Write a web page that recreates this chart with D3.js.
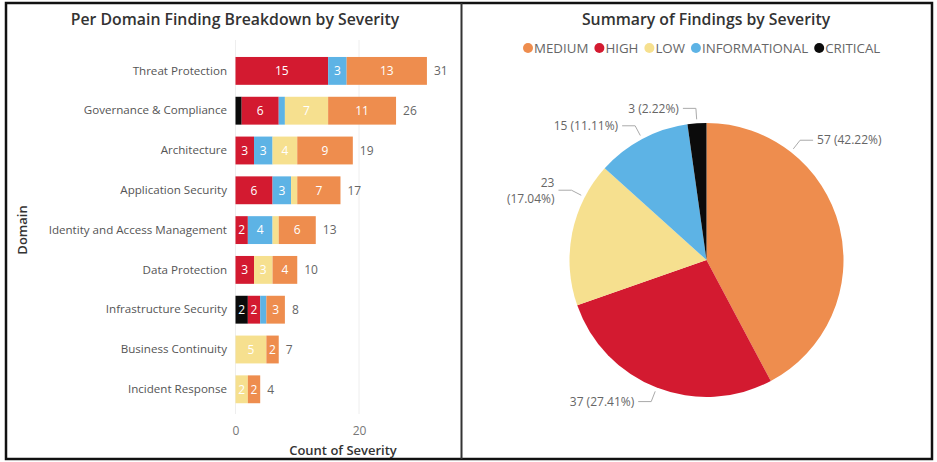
<!DOCTYPE html>
<html lang="en">
<head>
  <meta charset="UTF-8">
  <title>Findings by Severity</title>
  <script src="https://cdn.jsdelivr.net/npm/d3@7"></script>
  <style>
    body { margin: 0; background: #fff; }
    text { font-family: "Open Sans", "Noto Sans", sans-serif; }
  </style>
</head>
<body>
  <svg class="chart"></svg>
</body>
</html>
<script>
  var svgWidth = 937;
  var svgHeight = 462;

  // data
  var domains = ['Threat Protection', 'Governance & Compliance', 'Architecture', 'Application Security',
    'Identity and Access Management', 'Data Protection', 'Infrastructure Security', 'Business Continuity', 'Incident Response'];
  var severities = ['CRITICAL', 'HIGH', 'INFORMATIONAL', 'LOW', 'MEDIUM'];
  var critical      = [0, 1, 0, 0, 0, 0, 2, 0, 0];
  var high          = [15, 6, 3, 6, 2, 3, 2, 0, 0];
  var informational = [3, 1, 3, 3, 4, 0, 1, 0, 0];
  var low           = [0, 7, 4, 1, 1, 3, 0, 5, 2];
  var medium        = [13, 11, 9, 7, 6, 4, 3, 2, 2];
  var xTicks = [0, 20];
  var pieOrder = ['MEDIUM', 'HIGH', 'LOW', 'INFORMATIONAL', 'CRITICAL'];

  var colors = {
    CRITICAL: '#0b0b0b',
    HIGH: '#d31a30',
    INFORMATIONAL: '#5db3e5',
    LOW: '#f6e08f',
    MEDIUM: '#ee8d4e'
  };

  var seriesValues = {CRITICAL: critical, HIGH: high, INFORMATIONAL: informational, LOW: low, MEDIUM: medium};

  var rows = domains.map(function(d, i) {
    var r = {domain: d};
    severities.forEach(function(s) { r[s] = seriesValues[s][i]; });
    return r;
  });

  var svg = d3.select('.chart')
    .attr('width', svgWidth)
    .attr('height', svgHeight);

  // frames
  svg.append('rect').attr('x', 6).attr('y', 3).attr('width', 926).attr('height', 456)
    .attr('fill', 'none').attr('stroke', '#111').attr('stroke-width', 2.5);
  svg.append('line').attr('x1', 461.5).attr('x2', 461.5).attr('y1', 3).attr('y2', 459)
    .attr('stroke', '#333').attr('stroke-width', 2);

  // ---------- bar chart ----------
  var xScale = d3.scaleLinear()
    .domain([0, 20])
    .range([235.5, 359]);

  var yScale = d3.scaleBand()
    .domain(domains)
    .range([51, 409.2])
    .paddingInner(0.3)
    .paddingOuter(0.15);

  svg.append('text')
    .attr('x', 235).attr('y', 25)
    .attr('text-anchor', 'middle')
    .attr('font-size', 15.8).attr('font-weight', 600).attr('fill', '#333')
    .text('Per Domain Finding Breakdown by Severity');

  var grid = svg.append('g');
  grid.selectAll('line')
    .data(xTicks)
    .enter()
    .append('line')
    .attr('x1', function(d) { return xScale(d); })
    .attr('x2', function(d) { return xScale(d); })
    .attr('y1', 40).attr('y2', 414)
    .attr('stroke', '#eeeeee');

  var xAxis = d3.axisBottom(xScale).tickValues(xTicks).tickSize(0).tickPadding(0);
  var xg = svg.append('g')
    .attr('transform', 'translate(0,426)')
    .call(xAxis);
  xg.select('.domain').remove();
  xg.selectAll('text').attr('font-size', 12).attr('fill', '#777').attr('dy', '0.71em')
    .style('font-family', '"Open Sans", sans-serif');

  var yAxis = d3.axisLeft(yScale).tickSize(0).tickPadding(0);
  var yg = svg.append('g')
    .attr('transform', 'translate(227,0)')
    .call(yAxis);
  yg.select('.domain').remove();
  yg.selectAll('text').attr('font-size', 11.6).attr('fill', '#555')
    .style('font-family', '"Open Sans", sans-serif');

  svg.append('text')
    .attr('x', 343).attr('y', 455)
    .attr('text-anchor', 'middle')
    .attr('font-size', 13).attr('font-weight', 600).attr('fill', '#333')
    .text('Count of Severity');

  svg.append('text')
    .attr('transform', 'translate(27,230) rotate(-90)')
    .attr('text-anchor', 'middle')
    .attr('font-size', 13).attr('font-weight', 600).attr('fill', '#333')
    .text('Domain');

  var stack = d3.stack().keys(severities)(rows);

  var layers = svg.append('g').selectAll('g')
    .data(stack)
    .enter()
    .append('g')
    .attr('fill', function(d) { return colors[d.key]; });

  layers.selectAll('rect')
    .data(function(d) { return d; })
    .enter()
    .append('rect')
    .attr('x', function(d) { return xScale(d[0]); })
    .attr('y', function(d) { return yScale(d.data.domain); })
    .attr('width', function(d) { return xScale(d[1]) - xScale(d[0]); })
    .attr('height', yScale.bandwidth());

  layers.selectAll('text')
    .data(function(d) { return d.filter(function(e) { return e[1] - e[0] >= 2; }); })
    .enter()
    .append('text')
    .attr('x', function(d) { return (xScale(d[0]) + xScale(d[1])) / 2; })
    .attr('y', function(d) { return yScale(d.data.domain) + yScale.bandwidth() / 2; })
    .attr('dy', '0.35em')
    .attr('text-anchor', 'middle')
    .attr('font-size', 12)
    .attr('fill', '#fff')
    .text(function(d) { return d[1] - d[0]; });

  svg.append('g').selectAll('text')
    .data(rows)
    .enter()
    .append('text')
    .attr('x', function(d) {
      return xScale(d3.sum(severities, function(s) { return d[s]; })) + 7;
    })
    .attr('y', function(d) { return yScale(d.domain) + yScale.bandwidth() / 2; })
    .attr('dy', '0.35em')
    .attr('font-size', 12)
    .attr('fill', '#666')
    .text(function(d) { return d3.sum(severities, function(s) { return d[s]; }); });

  // ---------- pie chart ----------
  var cx = 706.5, cy = 260, radius = 137;

  svg.append('text')
    .attr('x', 706).attr('y', 25)
    .attr('text-anchor', 'middle')
    .attr('font-size', 15.8).attr('font-weight', 600).attr('fill', '#333')
    .text('Summary of Findings by Severity');

  // legend
  var legend = svg.append('g').attr('transform', 'translate(0,48)');
  var lx = 528;
  pieOrder.forEach(function(s) {
    var item = legend.append('g').attr('transform', 'translate(' + lx + ',0)');
    item.append('circle').attr('r', 5).attr('fill', colors[s]);
    var t = item.append('text').attr('x', 6).attr('dy', '0.35em')
      .attr('font-size', 13.3).attr('fill', '#666').text(s);
    lx += 6 + t.node().getComputedTextLength() + 11;
  });

  var pieData = pieOrder.map(function(s) {
    return {key: s, value: d3.sum(seriesValues[s])};
  });
  var total = d3.sum(pieData, function(d) { return d.value; });

  var pie = d3.pie().sort(null).value(function(d) { return d.value; });
  var arc = d3.arc().innerRadius(0).outerRadius(radius);
  var arcs = pie(pieData);

  var pieG = svg.append('g').attr('transform', 'translate(' + cx + ',' + cy + ')');
  pieG.selectAll('path')
    .data(arcs)
    .enter()
    .append('path')
    .attr('d', arc)
    .attr('fill', function(d) { return colors[d.data.key]; });

  // label anchor nudges (degrees) to follow the original label placement
  var labelNudge = {MEDIUM: -38, LOW: 16};

  arcs.forEach(function(d) {
    var a = (d.startAngle + d.endAngle) / 2 + (labelNudge[d.data.key] || 0) * Math.PI / 180;
    var sx = Math.sin(a), sy = -Math.cos(a);
    var p1 = [sx * (radius + 4), sy * (radius + 4)];
    var p2 = [sx * (radius + 15), sy * (radius + 15)];
    var side = sx >= 0 ? 1 : -1;
    var p3 = [p2[0] + side * 13, p2[1]];
    pieG.append('polyline')
      .attr('points', [p1, p2, p3].map(function(p) { return p.join(','); }).join(' '))
      .attr('fill', 'none').attr('stroke', '#aaa').attr('stroke-width', 1);

    var label = d.data.value + ' (' + d3.format('.2%')(d.data.value / total) + ')';
    var t = pieG.append('text')
      .attr('x', p3[0] + side * 4)
      .attr('y', p3[1])
      .attr('dy', '0.35em')
      .attr('text-anchor', side > 0 ? 'start' : 'end')
      .attr('font-size', 12).attr('fill', '#666')
      .text(label);
    // wrap when it would run too far left
    if (cx + p3[0] - 4 - t.node().getComputedTextLength() < 520) {
      t.text(null).attr('dy', null);
      t.append('tspan').attr('x', p3[0] + side * 4).attr('dy', '-0.25em').text(d.data.value);
      t.append('tspan').attr('x', p3[0] + side * 4).attr('dy', '1.3em')
        .text('(' + d3.format('.2%')(d.data.value / total) + ')');
    }
  });
</script>
